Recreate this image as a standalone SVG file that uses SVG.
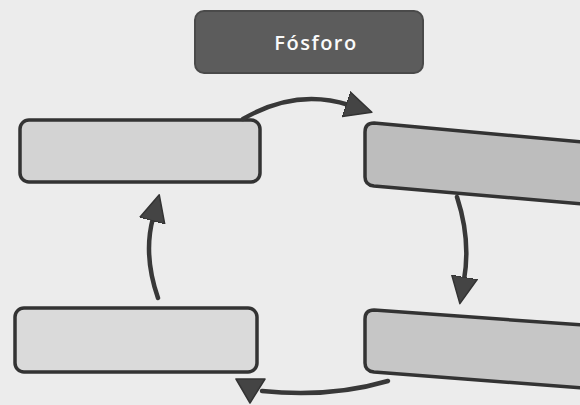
<svg xmlns="http://www.w3.org/2000/svg" width="580" height="405" viewBox="0 0 580 405">
<defs>
<style>
.box{stroke:#333;stroke-width:3.5;stroke-linejoin:round}
.conn{fill:none;stroke:#383838;stroke-width:4.5;stroke-linecap:round}
.head{fill:#444;stroke:#333;stroke-width:1.5;stroke-linejoin:round}
.title{font-family:"Open Sans","DejaVu Sans",sans-serif;font-size:20px;font-weight:600;fill:#fafafa;letter-spacing:1.5px}
</style>
<marker id="arr" markerUnits="userSpaceOnUse" viewBox="0 0 28 28" markerWidth="28" markerHeight="28" refX="3" refY="14" orient="auto">
<path d="M0,1 L27,14 L0,27 z" fill="#444" stroke="#333" stroke-width="1.5" stroke-linejoin="round"/>
</marker>
</defs>
<rect width="580" height="405" fill="#ececec"/>
<g id="title">
<rect x="195" y="11" width="228" height="62" rx="9" fill="#5c5c5c" stroke="#4a4a4a" stroke-width="2"/>
<text class="title" x="316" y="50" text-anchor="middle">Fósforo</text>
</g>
<g id="node-top-left">
<rect class="box" x="20" y="120" width="240" height="62" rx="9" fill="#d3d3d3"/>
</g>
<g id="node-top-right">
<path class="box" d="M374,123 L582,142 L582,204 L374,186 Q365,185 365,177 L365,132 Q365,123 374,123 z" fill="#bdbdbd"/>
</g>
<g id="node-bottom-left">
<rect class="box" x="15" y="308" width="242" height="64" rx="9" fill="#dadada"/>
</g>
<g id="node-bottom-right">
<path class="box" d="M374,310 L582,325 L582,388 L374,372 Q365,371 365,363 L365,319 Q365,310 374,310 z" fill="#c6c6c6"/>
</g>
<g id="connectors">
<path class="conn" d="M243,119 Q296,88 349,105" marker-end="url(#arr)"/>
<path class="conn" d="M457,197 Q471,240 464,280" marker-end="url(#arr)"/>
<path class="conn" d="M388,381 Q330,398 262,391"/>
<polygon class="head" points="236,379 265,379 250,403"/>
<path class="conn" d="M158,298 Q143,255 153,218" marker-end="url(#arr)"/>
</g>
</svg>
